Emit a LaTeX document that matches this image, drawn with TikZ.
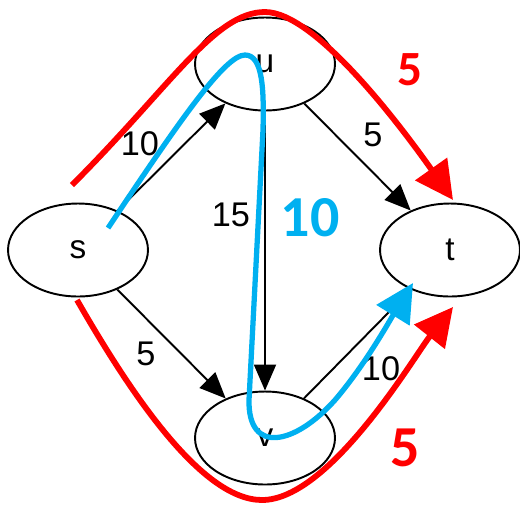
\documentclass[tikz,border=0pt]{standalone}
\usepackage{fontspec}
\setmainfont{Liberation Sans}
\newfontfamily\calibri{Carlito}
\usetikzlibrary{arrows.meta, shapes.geometric}

\begin{document}
\begin{tikzpicture}[x=0.02cm, y=-0.02cm,
  vert/.style={draw, ellipse, line width=1.1pt, minimum width=2.8cm, minimum height=1.86cm, inner sep=0pt, font=\fontsize{19}{22}\selectfont},
  edge/.style={-{Triangle[length=0.52cm, width=0.44cm]}, line width=1.1pt},
  wt/.style={font=\fontsize{19.5}{22}\selectfont},
  flow/.style={-{Triangle[length=0.76cm, width=0.76cm]}, line width=3.3pt}]
  \useasboundingbox (0,0) rectangle (520,505);
  % the network
  \node[vert] (s) at (78,250) {s};
  \node[vert] (u) at (265,64) {u};
  \node[vert] (t) at (450,250) {t};
  \node[vert] (v) at (265,438) {v};
  \draw[edge] (s) -- (u);
  \draw[edge] (u) -- (t);
  \draw[edge] (u) -- (v);
  \draw[edge] (s) -- (v);
  \draw[edge] (v) -- (t);
  \node[wt] (wsu) at (140,144) {10};
  \node[wt] (wut) at (373,135) {5};
  \node[wt] (wuv) at (231,215) {15};
  \node[wt] (wsv) at (146,354) {5};
  \node[wt] (wvt) at (381,369) {10};
  % paths s-u-t and s-v-t
  \draw[flow, red] (72,185) .. controls (172,85) and (215,12) .. (265,12)
    .. controls (315,12) and (400,125) .. (453,200);
  \draw[flow, red] (77,300) .. controls (127,387) and (200,500) .. (262,500)
    .. controls (330,500) and (415,355) .. (453,307);
  \node[red, font=\calibri\bfseries\fontsize{28}{30}\selectfont] (fa) at (410,70) {5};
  \node[red, font=\calibri\bfseries\fontsize{33}{36}\selectfont] (fb) at (405,448) {5};
  % path s-u-v-t
  \draw[flow, line width=3pt, color={rgb,255:red,0;green,176;blue,240}] (108,228) .. controls (180,120) and (225,55) .. (245,55)
    .. controls (263,55) and (264,90) .. (263,130) -- (249,400)
    .. controls (248,455) and (295,445) .. (335,400)
    .. controls (365,365) and (390,320) .. (413,283);
  \node[color={rgb,255:red,0;green,176;blue,240}, font=\calibri\bfseries\fontsize{33}{36}\selectfont] (fc) at (310,218) {10};
\end{tikzpicture}
\end{document}
